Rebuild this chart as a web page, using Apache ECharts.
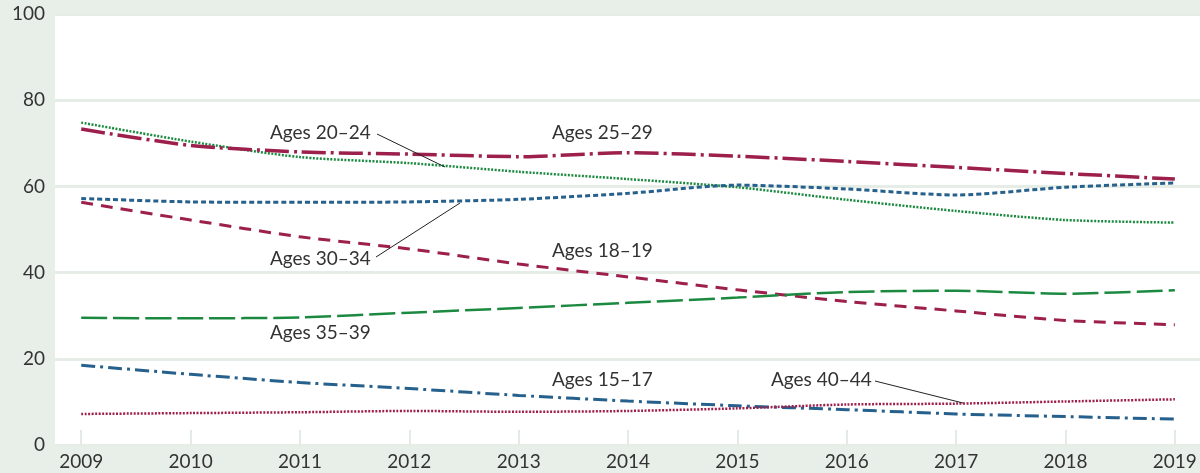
<!DOCTYPE html>
<html>
<head>
<meta charset="utf-8">
<script src="https://cdn.jsdelivr.net/npm/echarts@6/dist/echarts.min.js"></script>
<style>
  html, body { margin: 0; padding: 0; background: #e8efe8; }
  #chart { width: 1200px; height: 473px; }
</style>
</head>
<body>
<div id="chart"></div>
<script>
// years on the x axis
const years = [2009, 2010, 2011, 2012, 2013, 2014, 2015, 2016, 2017, 2018, 2019];
const yTicks = [0, 20, 40, 60, 80, 100];

// rates per age group
const ages1517 = [18.5, 16.4, 14.5, 13.1, 11.5, 10.2, 9.1, 8.2, 7.2, 6.6, 6.0];
const ages1819 = [56.3, 52.2, 48.3, 45.5, 42.0, 39.0, 36.0, 33.3, 31.1, 28.9, 27.9];
const ages2024 = [74.8, 70.4, 66.8, 65.4, 63.4, 61.7, 59.8, 56.9, 54.3, 52.2, 51.6];
const ages2529 = [73.3, 69.5, 68.0, 67.5, 66.9, 67.8, 67.0, 65.8, 64.4, 63.0, 61.7];
const ages3034 = [57.2, 56.4, 56.3, 56.4, 57.0, 58.4, 60.3, 59.4, 58.0, 59.8, 60.8];
const ages3539 = [29.5, 29.4, 29.6, 30.7, 31.8, 33.0, 34.2, 35.5, 35.8, 35.1, 35.9];
const ages4044 = [7.2, 7.4, 7.6, 7.9, 7.7, 7.9, 8.5, 9.4, 9.6, 10.1, 10.6];

const maroon = '#9d1f4c';
const blue = '#26608c';
const green = '#1b8a40';
const txt = '#333333';
const font = 'Lato';

window.addEventListener('load', function () {
  let chart = echarts.init(document.getElementById('chart'));

  function pairs(vals) {
    return vals.map((v, i) => [years[i], v]);
  }
  function line(name, vals, color, width, dash) {
    return {
      name: name,
      type: 'line',
      data: pairs(vals),
      symbol: 'none',
      smooth: 0.25,
      lineStyle: { color: color, width: width, type: dash, cap: 'butt' }
    };
  }

  function label(x, y, text) {
    return {
      type: 'text', x: x, y: y, z: 50,
      style: { text: text, fill: txt, font: '19px ' + font, textVerticalAlign: 'middle' }
    };
  }
  function leader(x1, y1, x2, y2) {
    return {
      type: 'line', z: 50,
      shape: { x1: x1, y1: y1, x2: x2, y2: y2 },
      style: { stroke: '#222', lineWidth: 1 }
    };
  }

  let option = {
    backgroundColor: '#e8efe8',
    animation: false,
    grid: {
      left: 55, right: 0, top: 14, bottom: 28,
      show: true, backgroundColor: '#ffffff', borderWidth: 0
    },
    xAxis: {
      type: 'value',
      min: 2008.76,
      max: 2019.23,
      axisLine: { show: false },
      splitLine: { show: false },
      axisTick: {
        show: true, inside: true, length: 15, customValues: years,
        lineStyle: { color: '#e4ebe4', width: 2 }
      },
      axisLabel: {
        customValues: years, margin: 7,
        color: txt, fontSize: 19, fontFamily: font,
        formatter: v => String(v)
      }
    },
    yAxis: {
      type: 'value',
      min: 0, max: 100, interval: 20,
      axisLine: { show: false },
      axisTick: { show: false },
      splitLine: { show: true, lineStyle: { color: '#e6ede6', width: 3 } },
      axisLabel: {
        margin: 10, color: txt, fontSize: 19, fontFamily: font,
        padding: [0, 0, 6, 0],
        formatter: v => yTicks.includes(v) ? String(v) : ''
      }
    },
    series: [
      line('Ages 15–17', ages1517, blue, 3, [14, 5, 3, 5]),
      line('Ages 18–19', ages1819, maroon, 3, [12, 8]),
      line('Ages 20–24', ages2024, green, 2.5, [2, 1.5]),
      line('Ages 25–29', ages2529, maroon, 3.5, [24, 5, 3, 5]),
      line('Ages 30–34', ages3034, blue, 3, [5, 3]),
      line('Ages 35–39', ages3539, green, 2.5, [26, 6]),
      line('Ages 40–44', ages4044, maroon, 2.5, [2, 1.5])
    ],
    graphic: [
      label(270, 133, 'Ages 20–24'),
      leader(377, 134, 445, 167),
      label(552, 133, 'Ages 25–29'),
      label(270, 259, 'Ages 30–34'),
      leader(376, 257, 460, 203),
      label(552, 251, 'Ages 18–19'),
      label(270, 333, 'Ages 35–39'),
      label(552, 380, 'Ages 15–17'),
      label(771, 380, 'Ages 40–44'),
      leader(875, 381, 963, 403)
    ]
  };

  chart.setOption(option);
});
</script>
</body>
</html>
